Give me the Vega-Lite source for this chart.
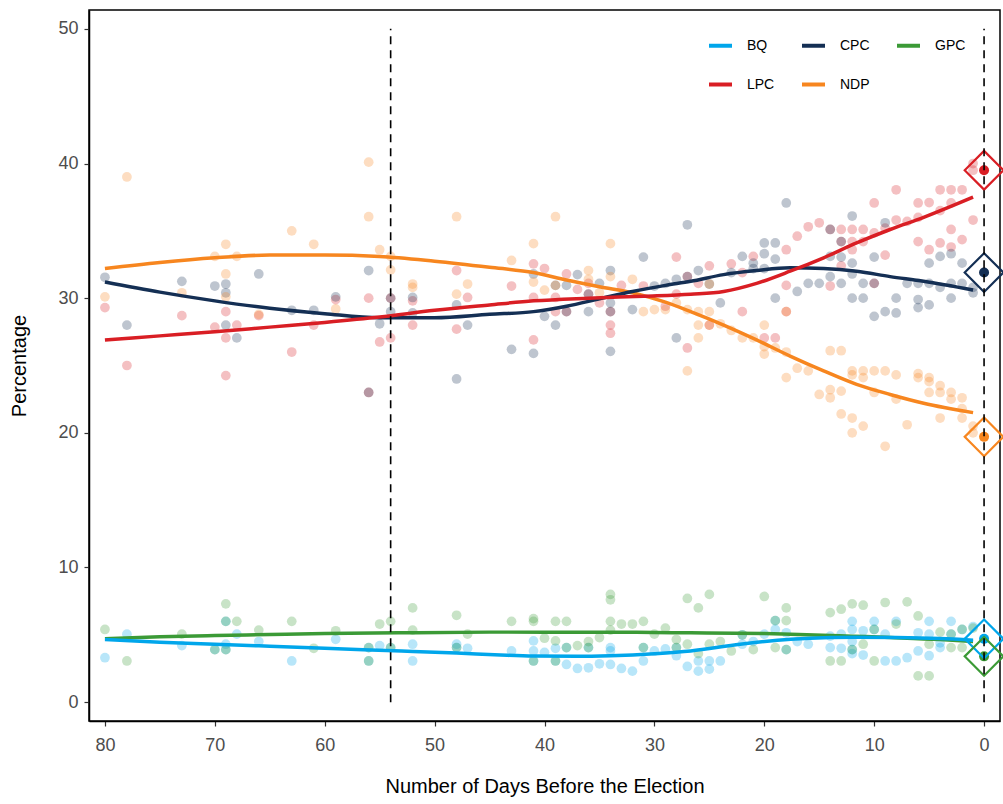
{
  "$schema": "https://vega.github.io/schema/vega-lite/v6.json",
  "autosize": {"type": "none"},
  "width": 911,
  "height": 711,
  "padding": {"left": 89, "top": 10, "right": 3, "bottom": 83},
  "background": "white",
  "config": {
    "font": "Liberation Sans",
    "view": {"stroke": "black", "strokeWidth": 1.5},
    "axis": {
      "grid": false,
      "labelColor": "#4D4D4D",
      "labelFontSize": 18,
      "titleFontSize": 20,
      "titleFontWeight": "normal",
      "titleColor": "black",
      "domainColor": "black",
      "domainWidth": 1.5,
      "tickColor": "#333333",
      "tickWidth": 1.2,
      "tickSize": 5
    }
  },
  "datasets": {
    "polls": [
      {"p":"LPC","d":80,"v":29.3},{"p":"LPC","d":78,"v":25.0},{"p":"LPC","d":73,"v":28.7},{"p":"LPC","d":70,"v":27.85},{"p":"LPC","d":69,"v":29.0},{"p":"LPC","d":69,"v":27.05},{"p":"LPC","d":69,"v":24.25},{"p":"LPC","d":68,"v":28.0},{"p":"LPC","d":66,"v":28.7},{"p":"LPC","d":63,"v":26.0},{"p":"LPC","d":61,"v":28.0},{"p":"LPC","d":59,"v":29.9},{"p":"LPC","d":56,"v":30.0},{"p":"LPC","d":56,"v":23.0},{"p":"LPC","d":55,"v":26.75},{"p":"LPC","d":54,"v":30.0},{"p":"LPC","d":54,"v":27.05},{"p":"LPC","d":52,"v":29.8},{"p":"LPC","d":52,"v":28.0},{"p":"LPC","d":48,"v":32.05},{"p":"LPC","d":48,"v":27.7},{"p":"LPC","d":47,"v":30.05},{"p":"LPC","d":43,"v":30.9},{"p":"LPC","d":41,"v":32.55},{"p":"LPC","d":41,"v":30.05},{"p":"LPC","d":41,"v":26.9},{"p":"LPC","d":40,"v":32.2},{"p":"LPC","d":39,"v":30.05},{"p":"LPC","d":39,"v":29.0},{"p":"LPC","d":38,"v":31.8},{"p":"LPC","d":38,"v":29.0},{"p":"LPC","d":37,"v":30.65},{"p":"LPC","d":36,"v":31.1},{"p":"LPC","d":36,"v":30.3},{"p":"LPC","d":35,"v":29.65},{"p":"LPC","d":34,"v":28.0},{"p":"LPC","d":34,"v":27.4},{"p":"LPC","d":34,"v":29.0},{"p":"LPC","d":33,"v":30.95},{"p":"LPC","d":31,"v":30.9},{"p":"LPC","d":29,"v":29.4},{"p":"LPC","d":28,"v":33.05},{"p":"LPC","d":28,"v":30.3},{"p":"LPC","d":27,"v":31.6},{"p":"LPC","d":27,"v":26.3},{"p":"LPC","d":26,"v":31.1},{"p":"LPC","d":25,"v":32.4},{"p":"LPC","d":25,"v":28.0},{"p":"LPC","d":23,"v":32.55},{"p":"LPC","d":22,"v":31.9},{"p":"LPC","d":22,"v":29.0},{"p":"LPC","d":21,"v":33.1},{"p":"LPC","d":20,"v":27.05},{"p":"LPC","d":19,"v":27.05},{"p":"LPC","d":18,"v":33.6},{"p":"LPC","d":18,"v":30.95},{"p":"LPC","d":18,"v":29.0},{"p":"LPC","d":17,"v":34.6},{"p":"LPC","d":16,"v":35.3},{"p":"LPC","d":15,"v":35.6},{"p":"LPC","d":14,"v":35.1},{"p":"LPC","d":14,"v":30.9},{"p":"LPC","d":13,"v":35.1},{"p":"LPC","d":13,"v":34.2},{"p":"LPC","d":13,"v":32.4},{"p":"LPC","d":12,"v":35.1},{"p":"LPC","d":12,"v":34.2},{"p":"LPC","d":12,"v":33.6},{"p":"LPC","d":11,"v":35.1},{"p":"LPC","d":11,"v":34.2},{"p":"LPC","d":10,"v":37.07},{"p":"LPC","d":10,"v":34.85},{"p":"LPC","d":10,"v":31.1},{"p":"LPC","d":9,"v":35.2},{"p":"LPC","d":9,"v":33.2},{"p":"LPC","d":8,"v":38.05},{"p":"LPC","d":8,"v":35.8},{"p":"LPC","d":7,"v":35.7},{"p":"LPC","d":6,"v":37.07},{"p":"LPC","d":6,"v":36.0},{"p":"LPC","d":6,"v":34.2},{"p":"LPC","d":5,"v":37.1},{"p":"LPC","d":5,"v":33.6},{"p":"LPC","d":4,"v":38.05},{"p":"LPC","d":4,"v":36.5},{"p":"LPC","d":4,"v":34.1},{"p":"LPC","d":3,"v":38.05},{"p":"LPC","d":3,"v":37.07},{"p":"LPC","d":3,"v":35.1},{"p":"LPC","d":3,"v":33.8},{"p":"LPC","d":2,"v":38.05},{"p":"LPC","d":2,"v":34.35},{"p":"LPC","d":1,"v":35.8},{"p":"LPC","d":1,"v":40.0},{"p":"LPC","d":1,"v":39.5},
      {"p":"CPC","d":80,"v":31.55},{"p":"CPC","d":78,"v":28.0},{"p":"CPC","d":73,"v":31.25},{"p":"CPC","d":70,"v":30.9},{"p":"CPC","d":69,"v":31.05},{"p":"CPC","d":69,"v":30.4},{"p":"CPC","d":69,"v":28.0},{"p":"CPC","d":68,"v":27.05},{"p":"CPC","d":66,"v":31.8},{"p":"CPC","d":63,"v":29.1},{"p":"CPC","d":61,"v":29.1},{"p":"CPC","d":59,"v":30.1},{"p":"CPC","d":56,"v":32.05},{"p":"CPC","d":56,"v":23.0},{"p":"CPC","d":55,"v":28.1},{"p":"CPC","d":54,"v":30.0},{"p":"CPC","d":54,"v":29.0},{"p":"CPC","d":52,"v":30.05},{"p":"CPC","d":52,"v":28.9},{"p":"CPC","d":48,"v":29.5},{"p":"CPC","d":48,"v":24.0},{"p":"CPC","d":47,"v":28.0},{"p":"CPC","d":43,"v":26.2},{"p":"CPC","d":41,"v":31.8},{"p":"CPC","d":41,"v":25.9},{"p":"CPC","d":40,"v":28.65},{"p":"CPC","d":39,"v":30.95},{"p":"CPC","d":39,"v":28.0},{"p":"CPC","d":38,"v":30.95},{"p":"CPC","d":38,"v":29.0},{"p":"CPC","d":37,"v":31.75},{"p":"CPC","d":36,"v":29.0},{"p":"CPC","d":36,"v":30.3},{"p":"CPC","d":35,"v":31.1},{"p":"CPC","d":34,"v":32.05},{"p":"CPC","d":34,"v":29.65},{"p":"CPC","d":34,"v":29.0},{"p":"CPC","d":34,"v":26.05},{"p":"CPC","d":32,"v":29.15},{"p":"CPC","d":31,"v":33.05},{"p":"CPC","d":30,"v":30.9},{"p":"CPC","d":29,"v":31.1},{"p":"CPC","d":28,"v":31.4},{"p":"CPC","d":28,"v":27.05},{"p":"CPC","d":27,"v":35.45},{"p":"CPC","d":27,"v":31.6},{"p":"CPC","d":26,"v":32.05},{"p":"CPC","d":25,"v":31.05},{"p":"CPC","d":24,"v":29.65},{"p":"CPC","d":23,"v":31.9},{"p":"CPC","d":22,"v":33.1},{"p":"CPC","d":21,"v":32.6},{"p":"CPC","d":21,"v":32.2},{"p":"CPC","d":20,"v":34.1},{"p":"CPC","d":20,"v":33.3},{"p":"CPC","d":20,"v":32.2},{"p":"CPC","d":19,"v":34.1},{"p":"CPC","d":19,"v":32.9},{"p":"CPC","d":19,"v":30.0},{"p":"CPC","d":18,"v":37.07},{"p":"CPC","d":17,"v":30.5},{"p":"CPC","d":16,"v":31.1},{"p":"CPC","d":15,"v":31.1},{"p":"CPC","d":14,"v":35.1},{"p":"CPC","d":14,"v":33.1},{"p":"CPC","d":14,"v":31.6},{"p":"CPC","d":13,"v":34.2},{"p":"CPC","d":13,"v":33.05},{"p":"CPC","d":13,"v":31.1},{"p":"CPC","d":12,"v":36.1},{"p":"CPC","d":12,"v":32.6},{"p":"CPC","d":12,"v":31.8},{"p":"CPC","d":12,"v":30.0},{"p":"CPC","d":11,"v":31.1},{"p":"CPC","d":11,"v":30.0},{"p":"CPC","d":10,"v":33.05},{"p":"CPC","d":10,"v":31.1},{"p":"CPC","d":10,"v":28.65},{"p":"CPC","d":9,"v":35.6},{"p":"CPC","d":9,"v":29.0},{"p":"CPC","d":8,"v":30.0},{"p":"CPC","d":8,"v":28.9},{"p":"CPC","d":7,"v":31.1},{"p":"CPC","d":6,"v":31.1},{"p":"CPC","d":6,"v":29.9},{"p":"CPC","d":6,"v":29.3},{"p":"CPC","d":5,"v":32.6},{"p":"CPC","d":5,"v":31.1},{"p":"CPC","d":5,"v":29.5},{"p":"CPC","d":4,"v":33.1},{"p":"CPC","d":4,"v":30.8},{"p":"CPC","d":3,"v":33.3},{"p":"CPC","d":3,"v":31.1},{"p":"CPC","d":3,"v":30.0},{"p":"CPC","d":2,"v":32.6},{"p":"CPC","d":2,"v":31.1},{"p":"CPC","d":1,"v":30.8},{"p":"CPC","d":1,"v":30.4},
      {"p":"NDP","d":80,"v":30.1},{"p":"NDP","d":78,"v":39.0},{"p":"NDP","d":73,"v":30.4},{"p":"NDP","d":70,"v":33.1},{"p":"NDP","d":69,"v":34.0},{"p":"NDP","d":69,"v":31.8},{"p":"NDP","d":69,"v":30.1},{"p":"NDP","d":68,"v":33.1},{"p":"NDP","d":66,"v":28.8},{"p":"NDP","d":63,"v":35.0},{"p":"NDP","d":61,"v":34.0},{"p":"NDP","d":59,"v":29.2},{"p":"NDP","d":56,"v":40.1},{"p":"NDP","d":56,"v":36.05},{"p":"NDP","d":55,"v":33.6},{"p":"NDP","d":54,"v":33.1},{"p":"NDP","d":54,"v":32.1},{"p":"NDP","d":52,"v":31.05},{"p":"NDP","d":52,"v":30.8},{"p":"NDP","d":48,"v":36.05},{"p":"NDP","d":48,"v":30.3},{"p":"NDP","d":47,"v":31.05},{"p":"NDP","d":43,"v":32.8},{"p":"NDP","d":41,"v":34.05},{"p":"NDP","d":41,"v":31.2},{"p":"NDP","d":40,"v":30.6},{"p":"NDP","d":39,"v":36.05},{"p":"NDP","d":39,"v":30.95},{"p":"NDP","d":36,"v":32.05},{"p":"NDP","d":36,"v":31.4},{"p":"NDP","d":35,"v":30.4},{"p":"NDP","d":34,"v":34.05},{"p":"NDP","d":34,"v":31.6},{"p":"NDP","d":32,"v":31.4},{"p":"NDP","d":31,"v":29.0},{"p":"NDP","d":30,"v":29.15},{"p":"NDP","d":29,"v":29.15},{"p":"NDP","d":28,"v":29.65},{"p":"NDP","d":27,"v":29.15},{"p":"NDP","d":27,"v":24.6},{"p":"NDP","d":26,"v":28.0},{"p":"NDP","d":26,"v":27.05},{"p":"NDP","d":26,"v":29.0},{"p":"NDP","d":25,"v":29.0},{"p":"NDP","d":25,"v":28.0},{"p":"NDP","d":25,"v":31.05},{"p":"NDP","d":24,"v":28.1},{"p":"NDP","d":23,"v":27.6},{"p":"NDP","d":22,"v":27.05},{"p":"NDP","d":21,"v":27.05},{"p":"NDP","d":20,"v":28.0},{"p":"NDP","d":20,"v":26.4},{"p":"NDP","d":20,"v":25.85},{"p":"NDP","d":19,"v":26.3},{"p":"NDP","d":18,"v":29.0},{"p":"NDP","d":18,"v":26.0},{"p":"NDP","d":18,"v":24.1},{"p":"NDP","d":17,"v":24.8},{"p":"NDP","d":16,"v":24.6},{"p":"NDP","d":15,"v":22.85},{"p":"NDP","d":14,"v":26.1},{"p":"NDP","d":14,"v":23.2},{"p":"NDP","d":14,"v":22.6},{"p":"NDP","d":13,"v":26.1},{"p":"NDP","d":13,"v":23.1},{"p":"NDP","d":13,"v":21.4},{"p":"NDP","d":12,"v":24.6},{"p":"NDP","d":12,"v":24.3},{"p":"NDP","d":12,"v":21.1},{"p":"NDP","d":12,"v":20.0},{"p":"NDP","d":11,"v":24.6},{"p":"NDP","d":11,"v":24.1},{"p":"NDP","d":11,"v":20.5},{"p":"NDP","d":10,"v":24.6},{"p":"NDP","d":10,"v":23.0},{"p":"NDP","d":9,"v":24.6},{"p":"NDP","d":9,"v":19.0},{"p":"NDP","d":8,"v":24.3},{"p":"NDP","d":8,"v":22.5},{"p":"NDP","d":7,"v":20.6},{"p":"NDP","d":6,"v":24.4},{"p":"NDP","d":6,"v":24.1},{"p":"NDP","d":5,"v":24.1},{"p":"NDP","d":5,"v":23.8},{"p":"NDP","d":5,"v":23.0},{"p":"NDP","d":4,"v":23.5},{"p":"NDP","d":4,"v":23.0},{"p":"NDP","d":4,"v":21.1},{"p":"NDP","d":3,"v":23.0},{"p":"NDP","d":3,"v":22.5},{"p":"NDP","d":2,"v":22.6},{"p":"NDP","d":2,"v":21.8},{"p":"NDP","d":2,"v":21.1},{"p":"NDP","d":1,"v":20.5},{"p":"NDP","d":1,"v":20.0},
      {"p":"BQ","d":80,"v":3.3},{"p":"BQ","d":78,"v":5.05},{"p":"BQ","d":73,"v":4.2},{"p":"BQ","d":70,"v":3.9},{"p":"BQ","d":69,"v":4.3},{"p":"BQ","d":69,"v":3.9},{"p":"BQ","d":69,"v":6.0},{"p":"BQ","d":68,"v":5.05},{"p":"BQ","d":66,"v":4.5},{"p":"BQ","d":63,"v":3.06},{"p":"BQ","d":59,"v":4.67},{"p":"BQ","d":56,"v":4.05},{"p":"BQ","d":56,"v":3.06},{"p":"BQ","d":55,"v":4.2},{"p":"BQ","d":54,"v":4.05},{"p":"BQ","d":52,"v":4.3},{"p":"BQ","d":52,"v":3.06},{"p":"BQ","d":48,"v":4.3},{"p":"BQ","d":48,"v":4.05},{"p":"BQ","d":47,"v":4.0},{"p":"BQ","d":43,"v":3.8},{"p":"BQ","d":41,"v":4.55},{"p":"BQ","d":41,"v":3.8},{"p":"BQ","d":41,"v":3.06},{"p":"BQ","d":40,"v":3.7},{"p":"BQ","d":39,"v":4.0},{"p":"BQ","d":39,"v":3.06},{"p":"BQ","d":38,"v":2.8},{"p":"BQ","d":38,"v":4.05},{"p":"BQ","d":37,"v":2.5},{"p":"BQ","d":36,"v":2.55},{"p":"BQ","d":36,"v":4.05},{"p":"BQ","d":35,"v":2.85},{"p":"BQ","d":34,"v":4.05},{"p":"BQ","d":34,"v":3.8},{"p":"BQ","d":34,"v":2.8},{"p":"BQ","d":33,"v":2.5},{"p":"BQ","d":32,"v":2.3},{"p":"BQ","d":31,"v":3.06},{"p":"BQ","d":31,"v":4.05},{"p":"BQ","d":30,"v":3.8},{"p":"BQ","d":29,"v":3.95},{"p":"BQ","d":28,"v":3.45},{"p":"BQ","d":28,"v":4.05},{"p":"BQ","d":27,"v":2.65},{"p":"BQ","d":26,"v":3.06},{"p":"BQ","d":26,"v":2.3},{"p":"BQ","d":25,"v":3.06},{"p":"BQ","d":25,"v":2.45},{"p":"BQ","d":24,"v":3.06},{"p":"BQ","d":22,"v":4.3},{"p":"BQ","d":22,"v":5.0},{"p":"BQ","d":21,"v":4.5},{"p":"BQ","d":20,"v":5.05},{"p":"BQ","d":19,"v":5.4},{"p":"BQ","d":19,"v":6.05},{"p":"BQ","d":18,"v":5.15},{"p":"BQ","d":18,"v":3.9},{"p":"BQ","d":17,"v":4.5},{"p":"BQ","d":16,"v":4.3},{"p":"BQ","d":14,"v":4.9},{"p":"BQ","d":14,"v":4.05},{"p":"BQ","d":13,"v":5.05},{"p":"BQ","d":13,"v":4.0},{"p":"BQ","d":12,"v":6.0},{"p":"BQ","d":12,"v":5.4},{"p":"BQ","d":12,"v":4.5},{"p":"BQ","d":12,"v":3.6},{"p":"BQ","d":12,"v":3.9},{"p":"BQ","d":11,"v":5.3},{"p":"BQ","d":11,"v":3.5},{"p":"BQ","d":10,"v":6.0},{"p":"BQ","d":10,"v":5.4},{"p":"BQ","d":9,"v":5.05},{"p":"BQ","d":9,"v":3.06},{"p":"BQ","d":8,"v":6.0},{"p":"BQ","d":8,"v":3.06},{"p":"BQ","d":7,"v":3.3},{"p":"BQ","d":6,"v":5.15},{"p":"BQ","d":6,"v":3.8},{"p":"BQ","d":5,"v":6.0},{"p":"BQ","d":5,"v":5.05},{"p":"BQ","d":5,"v":3.45},{"p":"BQ","d":4,"v":4.4},{"p":"BQ","d":4,"v":4.05},{"p":"BQ","d":3,"v":6.0},{"p":"BQ","d":3,"v":5.05},{"p":"BQ","d":2,"v":5.4},{"p":"BQ","d":1,"v":5.6},
      {"p":"GPC","d":80,"v":5.4},{"p":"GPC","d":78,"v":3.06},{"p":"GPC","d":73,"v":5.05},{"p":"GPC","d":70,"v":3.9},{"p":"GPC","d":69,"v":7.3},{"p":"GPC","d":69,"v":6.0},{"p":"GPC","d":69,"v":3.9},{"p":"GPC","d":68,"v":6.0},{"p":"GPC","d":66,"v":5.35},{"p":"GPC","d":63,"v":6.0},{"p":"GPC","d":61,"v":4.0},{"p":"GPC","d":59,"v":5.3},{"p":"GPC","d":56,"v":4.05},{"p":"GPC","d":56,"v":3.06},{"p":"GPC","d":55,"v":5.8},{"p":"GPC","d":54,"v":6.0},{"p":"GPC","d":54,"v":4.05},{"p":"GPC","d":52,"v":7.0},{"p":"GPC","d":52,"v":5.35},{"p":"GPC","d":48,"v":6.45},{"p":"GPC","d":48,"v":4.05},{"p":"GPC","d":47,"v":5.05},{"p":"GPC","d":43,"v":6.0},{"p":"GPC","d":41,"v":6.2},{"p":"GPC","d":41,"v":6.0},{"p":"GPC","d":41,"v":3.06},{"p":"GPC","d":40,"v":4.75},{"p":"GPC","d":39,"v":6.0},{"p":"GPC","d":39,"v":4.55},{"p":"GPC","d":39,"v":3.06},{"p":"GPC","d":38,"v":6.0},{"p":"GPC","d":38,"v":4.05},{"p":"GPC","d":37,"v":4.2},{"p":"GPC","d":36,"v":4.5},{"p":"GPC","d":36,"v":4.05},{"p":"GPC","d":35,"v":4.8},{"p":"GPC","d":34,"v":8.0},{"p":"GPC","d":34,"v":7.6},{"p":"GPC","d":34,"v":6.0},{"p":"GPC","d":34,"v":5.35},{"p":"GPC","d":33,"v":5.8},{"p":"GPC","d":32,"v":5.8},{"p":"GPC","d":31,"v":6.0},{"p":"GPC","d":31,"v":4.05},{"p":"GPC","d":30,"v":5.05},{"p":"GPC","d":29,"v":5.5},{"p":"GPC","d":28,"v":4.65},{"p":"GPC","d":28,"v":4.05},{"p":"GPC","d":27,"v":7.7},{"p":"GPC","d":27,"v":4.3},{"p":"GPC","d":26,"v":7.0},{"p":"GPC","d":26,"v":3.6},{"p":"GPC","d":25,"v":8.0},{"p":"GPC","d":25,"v":4.3},{"p":"GPC","d":24,"v":4.5},{"p":"GPC","d":23,"v":3.8},{"p":"GPC","d":22,"v":5.0},{"p":"GPC","d":21,"v":3.9},{"p":"GPC","d":20,"v":7.85},{"p":"GPC","d":19,"v":6.05},{"p":"GPC","d":19,"v":4.05},{"p":"GPC","d":18,"v":7.0},{"p":"GPC","d":18,"v":6.05},{"p":"GPC","d":18,"v":3.9},{"p":"GPC","d":14,"v":6.65},{"p":"GPC","d":14,"v":3.06},{"p":"GPC","d":13,"v":6.9},{"p":"GPC","d":13,"v":3.06},{"p":"GPC","d":12,"v":7.3},{"p":"GPC","d":12,"v":3.9},{"p":"GPC","d":11,"v":7.2},{"p":"GPC","d":11,"v":4.3},{"p":"GPC","d":10,"v":5.4},{"p":"GPC","d":10,"v":3.06},{"p":"GPC","d":9,"v":7.4},{"p":"GPC","d":8,"v":5.8},{"p":"GPC","d":7,"v":7.45},{"p":"GPC","d":6,"v":6.4},{"p":"GPC","d":6,"v":1.95},{"p":"GPC","d":5,"v":1.95},{"p":"GPC","d":5,"v":4.3},{"p":"GPC","d":4,"v":5.2},{"p":"GPC","d":3,"v":5.05},{"p":"GPC","d":3,"v":4.05},{"p":"GPC","d":2,"v":5.4},{"p":"GPC","d":2,"v":4.05},{"p":"GPC","d":1,"v":5.5}
    ],
    "trend": [
      {"p":"NDP","d":80,"v":32.2},{"p":"NDP","d":75,"v":32.65},{"p":"NDP","d":70,"v":33.0},{"p":"NDP","d":65,"v":33.2},{"p":"NDP","d":60,"v":33.2},{"p":"NDP","d":55,"v":33.1},{"p":"NDP","d":50,"v":32.75},{"p":"NDP","d":45,"v":32.3},{"p":"NDP","d":41,"v":31.9},{"p":"NDP","d":38,"v":31.35},{"p":"NDP","d":35,"v":30.85},{"p":"NDP","d":32,"v":30.4},{"p":"NDP","d":29,"v":29.7},{"p":"NDP","d":26.7,"v":29.0},{"p":"NDP","d":23.7,"v":28.0},{"p":"NDP","d":20.7,"v":26.9},{"p":"NDP","d":17.65,"v":25.7},{"p":"NDP","d":14.6,"v":24.6},{"p":"NDP","d":11.6,"v":23.6},{"p":"NDP","d":8.55,"v":22.85},{"p":"NDP","d":5.5,"v":22.2},{"p":"NDP","d":1,"v":21.5},
      {"p":"CPC","d":80,"v":31.2},{"p":"CPC","d":75,"v":30.45},{"p":"CPC","d":70,"v":29.8},{"p":"CPC","d":65,"v":29.25},{"p":"CPC","d":60,"v":28.85},{"p":"CPC","d":55,"v":28.55},{"p":"CPC","d":50,"v":28.55},{"p":"CPC","d":45,"v":28.8},{"p":"CPC","d":41,"v":29.0},{"p":"CPC","d":38,"v":29.4},{"p":"CPC","d":35,"v":29.95},{"p":"CPC","d":32,"v":30.5},{"p":"CPC","d":29,"v":30.95},{"p":"CPC","d":26.7,"v":31.25},{"p":"CPC","d":23.7,"v":31.75},{"p":"CPC","d":20.7,"v":32.05},{"p":"CPC","d":17.65,"v":32.25},{"p":"CPC","d":14.6,"v":32.2},{"p":"CPC","d":11.6,"v":32.0},{"p":"CPC","d":8.55,"v":31.6},{"p":"CPC","d":5.5,"v":31.25},{"p":"CPC","d":1,"v":30.6},
      {"p":"LPC","d":80,"v":26.9},{"p":"LPC","d":75,"v":27.2},{"p":"LPC","d":70,"v":27.5},{"p":"LPC","d":65,"v":27.85},{"p":"LPC","d":60,"v":28.2},{"p":"LPC","d":55,"v":28.6},{"p":"LPC","d":50,"v":29.1},{"p":"LPC","d":45,"v":29.5},{"p":"LPC","d":41,"v":29.8},{"p":"LPC","d":36,"v":30.0},{"p":"LPC","d":31,"v":30.15},{"p":"LPC","d":26.7,"v":30.3},{"p":"LPC","d":23.7,"v":30.5},{"p":"LPC","d":20.7,"v":31.1},{"p":"LPC","d":17.65,"v":32.0},{"p":"LPC","d":14.6,"v":33.0},{"p":"LPC","d":11.6,"v":34.1},{"p":"LPC","d":8.55,"v":35.1},{"p":"LPC","d":5.5,"v":36.0},{"p":"LPC","d":1,"v":37.5},
      {"p":"GPC","d":80,"v":4.7},{"p":"GPC","d":75,"v":4.85},{"p":"GPC","d":70,"v":4.95},{"p":"GPC","d":65,"v":5.02},{"p":"GPC","d":60,"v":5.1},{"p":"GPC","d":53,"v":5.15},{"p":"GPC","d":45,"v":5.2},{"p":"GPC","d":40,"v":5.2},{"p":"GPC","d":35,"v":5.2},{"p":"GPC","d":30,"v":5.17},{"p":"GPC","d":26.7,"v":5.15},{"p":"GPC","d":20,"v":5.1},{"p":"GPC","d":17.6,"v":5.05},{"p":"GPC","d":12,"v":4.9},{"p":"GPC","d":8.5,"v":4.8},{"p":"GPC","d":4,"v":4.65},{"p":"GPC","d":1,"v":4.5},
      {"p":"BQ","d":80,"v":4.65},{"p":"BQ","d":75,"v":4.45},{"p":"BQ","d":70,"v":4.3},{"p":"BQ","d":65,"v":4.15},{"p":"BQ","d":60,"v":4.0},{"p":"BQ","d":53,"v":3.8},{"p":"BQ","d":48,"v":3.65},{"p":"BQ","d":44,"v":3.5},{"p":"BQ","d":41,"v":3.42},{"p":"BQ","d":37,"v":3.4},{"p":"BQ","d":34,"v":3.45},{"p":"BQ","d":30,"v":3.6},{"p":"BQ","d":26.7,"v":3.8},{"p":"BQ","d":22.2,"v":4.3},{"p":"BQ","d":17.6,"v":4.67},{"p":"BQ","d":14,"v":4.8},{"p":"BQ","d":11.6,"v":4.82},{"p":"BQ","d":8,"v":4.8},{"p":"BQ","d":4,"v":4.72},{"p":"BQ","d":1,"v":4.6}
    ],
    "result": [
      {"p":"LPC","d":0,"v":39.5},{"p":"CPC","d":0,"v":31.9},{"p":"NDP","d":0,"v":19.7},{"p":"BQ","d":0,"v":4.7},{"p":"GPC","d":0,"v":3.4}
    ],
    "vlines": [{"day":54},{"day":0}]
  },
  "layer": [
    {
      "data": {"name": "polls"},
      "mark": {"type": "circle", "size": 95, "opacity": 1, "fillOpacity": 0.28},
      "encoding": {
        "x": {
          "field": "d", "type": "quantitative",
          "scale": {"domain": [-1.45, 81.45], "reverse": true, "nice": false, "zero": false},
          "axis": {"values": [0,10,20,30,40,50,60,70,80], "title": "Number of Days Before the Election", "labelPadding": 10, "titlePadding": 22}
        },
        "y": {
          "field": "v", "type": "quantitative",
          "scale": {"domain": [-1.4, 51.4], "nice": false, "zero": false},
          "axis": {"values": [0,10,20,30,40,50], "title": "Percentage", "labelPadding": 6, "titlePadding": 28}
        },
        "color": {"field": "p", "type": "nominal",
          "scale": {"domain": ["BQ","CPC","GPC","LPC","NDP"], "range": ["#00A6EB","#142F54","#3B9A36","#D91E24","#F7861F"]}}
      }
    },
    {
      "data": {"name": "trend"},
      "mark": {"type": "line", "strokeWidth": 3.5, "interpolate": "monotone"},
      "encoding": {
        "x": {"field": "d", "type": "quantitative"},
        "y": {"field": "v", "type": "quantitative"},
        "color": {"field": "p", "type": "nominal",
          "legend": {"title": null, "orient": "none", "legendX": 618, "legendY": 22, "columns": 3, "direction": "horizontal",
            "symbolType": "stroke", "symbolStrokeWidth": 4, "symbolSize": 529, "symbolOpacity": 1, "labelFontSize": 14, "labelColor": "black",
            "labelOffset": 13, "columnPadding": 19, "rowPadding": 17, "padding": 0,
            "encode": {"symbols": {"update": {"opacity": {"value": 1}, "strokeOpacity": {"value": 1}}}}}}
      }
    },
    {
      "data": {"name": "result"},
      "mark": {"type": "circle", "size": 100, "opacity": 1},
      "encoding": {
        "x": {"field": "d", "type": "quantitative"},
        "y": {"field": "v", "type": "quantitative"},
        "color": {"field": "p", "type": "nominal"}
      }
    },
    {
      "data": {"name": "result"},
      "mark": {"type": "point", "shape": "diamond", "size": 1500, "filled": false, "strokeWidth": 2.2, "opacity": 1},
      "encoding": {
        "x": {"field": "d", "type": "quantitative"},
        "y": {"field": "v", "type": "quantitative"},
        "color": {"field": "p", "type": "nominal"}
      }
    },
    {
      "data": {"name": "vlines"},
      "mark": {"type": "rule", "color": "black", "strokeWidth": 1.6, "strokeDash": [8, 6]},
      "encoding": {
        "x": {"field": "day", "type": "quantitative"},
        "y": {"datum": 0},
        "y2": {"datum": 50}
      }
    }
  ]
}
